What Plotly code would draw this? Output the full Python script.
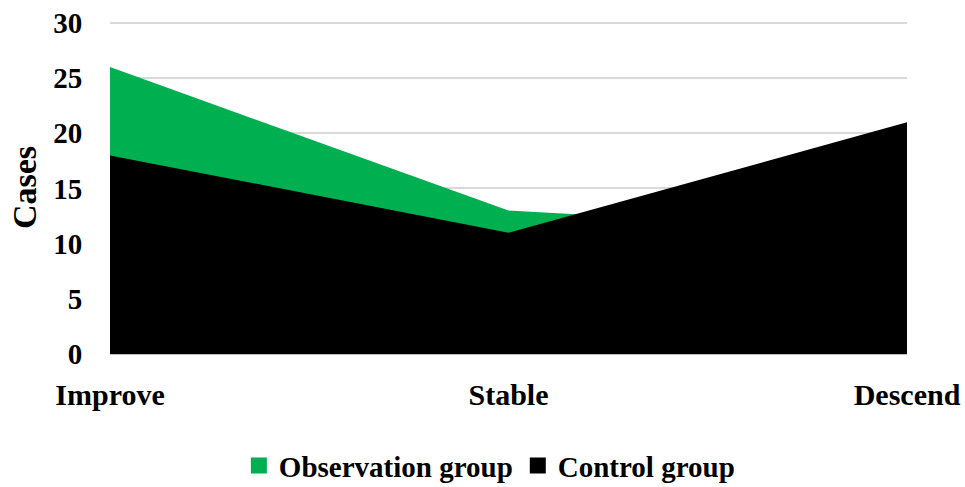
import plotly.graph_objects as go

categories = ["Improve", "Stable", "Descend"]
observation = [26, 13, 11]
control = [18, 11, 21]
y_ticks = [0, 5, 10, 15, 20, 25, 30]
series_names = ["Observation group", "Control group"]
series_colors = ["#00B050", "#000000"]

FONT = "Liberation Serif"

fig = go.Figure()
for name, vals, col in zip(series_names, [observation, control], series_colors):
    fig.add_trace(go.Scatter(
        x=categories, y=vals, name=name, showlegend=False,
        mode="none", fill="tozeroy", fillcolor=col,
    ))
for name, col in zip(series_names, series_colors):
    fig.add_trace(go.Scatter(
        x=[None], y=[None], name=name, mode="markers",
        marker=dict(symbol="square", size=17, color=col),
    ))

fig.update_layout(
    width=965, height=487,
    margin=dict(l=110, r=58, t=21, b=133, autoexpand=False),
    paper_bgcolor="white", plot_bgcolor="white",
    font=dict(family=FONT, color="black", size=29, weight="bold"),
    showlegend=True,
    legend=dict(
        orientation="h", x=0.476, xanchor="center", y=-0.335, yanchor="middle",
        font=dict(family=FONT, size=29, weight="bold"),
        itemwidth=30, traceorder="normal",
    ),
    xaxis=dict(
        type="category", range=[0, 2], showgrid=False, automargin=False,
        showline=False, zeroline=False,
        ticks="outside", ticklen=14, tickcolor="rgba(0,0,0,0)",
        tickfont=dict(family=FONT, size=30, weight="bold"),
    ),
    yaxis=dict(
        range=[0, 30.18], tickvals=y_ticks, showgrid=True, gridcolor="#d9d9d9",
        gridwidth=1.5, zeroline=True, zerolinecolor="#bfbfbf", zerolinewidth=1.5,
        automargin=False,
        showline=False, ticks="outside", ticklen=21, tickcolor="rgba(0,0,0,0)",
        tickfont=dict(family=FONT, size=29, weight="bold"),
        title=dict(text="Cases", font=dict(family=FONT, size=34, weight="bold"), standoff=6),
    ),
)

fig.write_html(
    "out.html",
    config={"displayModeBar": False},
    post_script="document.body.style.margin='0';document.body.style.overflow='hidden';",
)
